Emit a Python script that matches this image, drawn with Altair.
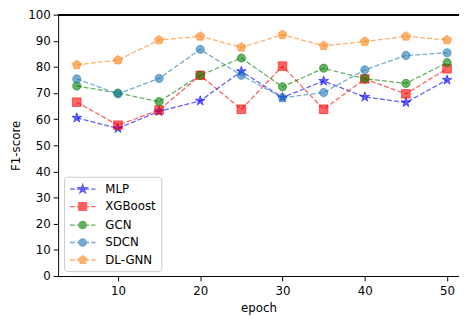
import altair as alt
import numpy as np
import pandas as pd

# ---- data ----
epochs = [5, 10, 15, 20, 25, 30, 35, 40, 45, 50]
models = ["MLP", "XGBoost", "GCN", "SDCN", "DL-GNN"]
mlp = [60.5, 56.5, 63.0, 67.0, 78.3, 68.3, 74.6, 68.5, 66.4, 75.0]
xgboost = [66.5, 57.7, 63.5, 76.8, 63.8, 80.3, 63.8, 75.4, 69.7, 79.3]
gcn = [72.7, 70.0, 66.7, 76.8, 83.4, 72.4, 79.5, 75.5, 73.7, 81.6]
sdcn = [75.4, 69.7, 75.6, 86.7, 76.8, 68.2, 70.2, 78.9, 84.4, 85.4]
dlgnn = [80.8, 82.6, 90.3, 91.7, 87.5, 92.3, 88.1, 89.7, 91.7, 90.3]
x_ticks = [10, 20, 30, 40, 50]
y_ticks = list(range(0, 101, 10))
y_max = 100

colors = ["#0000ff", "#ff0000", "#008000", "#1f77b4", "#ff7f0e"]

series = [mlp, xgboost, gcn, sdcn, dlgnn]
rows = []
for m, vals in zip(models, series):
    for e, v in zip(epochs, vals):
        rows.append({"epoch": e, "f1": v, "model": m})
df = pd.DataFrame(rows)


# ---- marker shapes (custom SVG paths, unit = sqrt(size)/2 px) ----
def fmt(pts):
    return "M" + "L".join(f"{x:.3f},{y:.3f}" for x, y in pts) + "Z"


def star(ro, ri, cx=0.0):
    pts = []
    for k in range(10):
        r = ro if k % 2 == 0 else ri
        a = np.pi / 2 + k * np.pi / 5
        pts.append((cx + r * np.cos(a), -r * np.sin(a)))
    return fmt(pts)


def pentagon(r, cx=0.0):
    pts = []
    for k in range(5):
        a = np.pi / 2 + k * 2 * np.pi / 5
        pts.append((cx + r * np.cos(a), -r * np.sin(a)))
    return fmt(pts)


def circle(r, cx=0.0):
    return (f"M{cx + r:.3f},0A{r:.3f},{r:.3f},0,1,1,{cx - r:.3f},0"
            f"A{r:.3f},{r:.3f},0,1,1,{cx + r:.3f},0Z")


def square(h, cx=0.0):
    return fmt([(cx - h, -h), (cx + h, -h), (cx + h, h), (cx - h, h)])


def markers(k, cx=0.0):
    return [star(1.3 * k, 0.5 * k, cx), square(1.1 * k, cx), circle(1.05 * k, cx),
            circle(1.05 * k, cx), pentagon(1.2 * k, cx)]


point_shapes = markers(1.0)

# legend symbol: dashed line + marker
dash = "M-1,0H-0.23M0.11,0H0.88M1.22,0H1.99M2.33,0H3"
legend_shapes = [dash + p for p in markers(3.6 / 6.5, 1.0)]

domain_x = [2.73, 51.45]

x_axis = alt.Axis(values=x_ticks, title="epoch", grid=False)
y_axis = alt.Axis(values=y_ticks, title="F1-score", grid=False)
y_scale = alt.Scale(domain=[0, 100], nice=False)

x_enc = alt.X("epoch:Q", scale=alt.Scale(domain=domain_x, nice=False, zero=False), axis=x_axis)
y_enc = alt.Y("f1:Q", scale=y_scale, axis=y_axis)
color_enc = alt.Color("model:N", scale=alt.Scale(domain=models, range=colors), legend=None)
stroke_enc = alt.Stroke("model:N", scale=alt.Scale(domain=models, range=colors), legend=None)

# top spine
top = alt.Chart(df).mark_rule(color="#000", strokeWidth=1).encode(
    y=alt.YDatum(y_max, scale=y_scale, axis=y_axis, type="quantitative")
)

lines = alt.Chart(df).mark_line(strokeDash=[5, 2.2], strokeWidth=1.3, opacity=0.62).encode(
    x=x_enc, y=y_enc, color=color_enc
)

points = alt.Chart(df).mark_point(
    filled=True, size=64, fillOpacity=0.6, strokeOpacity=0.55, strokeWidth=1
).encode(
    x=x_enc, y=y_enc, color=color_enc, stroke=stroke_enc,
    shape=alt.Shape("model:N", scale=alt.Scale(domain=models, range=point_shapes), legend=None),
)

leg = alt.Legend(
    title=None, orient="none", legendX=6, legendY=165,
    symbolSize=169, labelOffset=22, rowPadding=3.8, padding=5,
    labelFontSize=12, labelFont="DejaVu Sans", labelColor="#000",
    fillColor="#ffffff", strokeColor="#cccccc", cornerRadius=3,
    symbolOpacity=0.62, symbolStrokeWidth=1.3,
)

legend_layer = alt.Chart(df).transform_filter("false").mark_point(
    filled=True, size=169, strokeWidth=1.3
).encode(
    x=x_enc,
    y=y_enc,
    color=alt.Color("model:N", scale=alt.Scale(domain=models, range=colors), legend=leg),
    stroke=alt.Stroke("model:N", scale=alt.Scale(domain=models, range=colors), legend=leg),
    shape=alt.Shape("model:N", scale=alt.Scale(domain=models, range=legend_shapes), legend=leg),
)

chart = alt.layer(top, lines, points, legend_layer).resolve_scale(
    shape="independent", color="independent", stroke="independent"
).properties(
    width=408, height=266,
    autosize=alt.AutoSizeParams(type="none"),
    padding={"left": 51, "top": 4, "right": 0, "bottom": 42},
).configure_view(stroke=None).configure_axis(
    domainColor="#000", tickColor="#000", tickSize=5, domainWidth=1, tickWidth=1,
    labelFontSize=12, labelFont="DejaVu Sans", labelColor="#000",
    titleFontSize=12, titleFont="DejaVu Sans", titleColor="#000", titleFontWeight="normal",
).configure_axisY(labelPadding=3, titlePadding=5).configure_axisX(labelPadding=5, titlePadding=6)

chart.save("out.html", embed_options={"renderer": "svg", "actions": False})
